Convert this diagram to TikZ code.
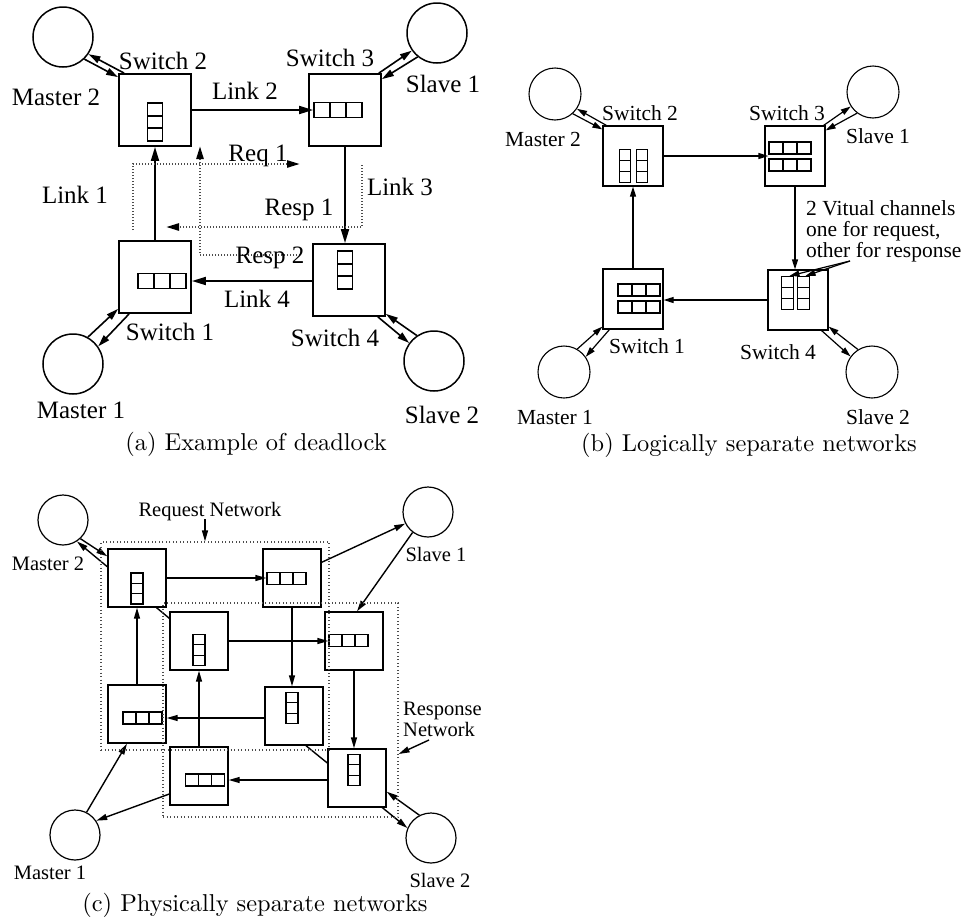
\documentclass[tikz,border=0pt]{standalone}
\usepackage{fontspec}
\newfontfamily\labelfont{Liberation Serif}
\usetikzlibrary{arrows.meta,positioning,calc,backgrounds}
\tikzset{
  fonta/.style={font=\labelfont\fontsize{25}{30}\selectfont},
  fontb/.style={font=\labelfont\fontsize{21.5}{21}\selectfont},
  fontc/.style={font=\labelfont\fontsize{20.5}{21}\selectfont},
  lbla/.style={fonta,inner sep=0pt,text height=17pt,text depth=0pt},
  lblb/.style={fontb,inner sep=0pt,text height=14.6pt,text depth=0pt},
  lblc/.style={fontc,inner sep=0pt,text height=14pt,text depth=0pt},
  captext/.style={font=\fontsize{10}{12}\selectfont,scale=2.44,inner sep=0pt},
  qv/.style={draw,inner sep=0pt,path picture={
    \foreach \k in {1,2}
      \draw ($(path picture bounding box.north west)!\k/3!(path picture bounding box.south west)$) --
            ($(path picture bounding box.north east)!\k/3!(path picture bounding box.south east)$);}},
  qh/.style={draw,inner sep=0pt,path picture={
    \foreach \k in {1,2}
      \draw ($(path picture bounding box.north west)!\k/3!(path picture bounding box.north east)$) --
            ($(path picture bounding box.south west)!\k/3!(path picture bounding box.south east)$);}},
  swa/.style={draw,line width=1.8pt,fill=white,minimum size=72pt,inner sep=0pt},
  swb/.style={draw,line width=1.2pt,fill=white,minimum size=60pt,inner sep=0pt},
  swc/.style={draw,line width=1.4pt,fill=white,minimum size=58pt,inner sep=0pt},
  enda/.style={circle,draw,line width=1.5pt,minimum size=60pt,inner sep=0pt},
  endb/.style={circle,draw,line width=1.1pt,minimum size=52pt,inner sep=0pt},
  endc/.style={circle,draw,line width=1.2pt,minimum size=50pt,inner sep=0pt},
  qva/.style={qv,line width=1.8pt,minimum width=15pt,minimum height=38pt},
  qha/.style={qh,line width=1.8pt,minimum width=48pt,minimum height=15pt},
  qvb/.style={qv,line width=1.2pt,minimum width=11.5pt,minimum height=33pt},
  qhb/.style={qh,line width=1.2pt,minimum width=42pt,minimum height=12pt},
  qvc/.style={qv,line width=1.3pt,minimum width=12pt,minimum height=31pt},
  qhc/.style={qh,line width=1.3pt,minimum width=39pt,minimum height=12pt},
  linka/.style={line width=1.8pt,-{Triangle[length=14pt,width=8pt]}},
  paira/.style={line width=1.6pt,-{Triangle[length=12pt,width=7pt]}},
  flowa/.style={draw=black!70,line width=2.4pt,dash pattern=on 1pt off 2pt,-{Triangle[length=13pt,width=7pt,color=black]}},
  linkb/.style={line width=1.2pt,-{Triangle[length=10pt,width=6pt]}},
  linkc/.style={line width=1.4pt,-{Triangle[length=11pt,width=6pt]}},
  netbox/.style={draw=black!70,line width=1.2pt,dash pattern=on 1pt off 2.5pt,inner sep=0pt}
}
\begin{document}
\begin{tikzpicture}[x=1pt,y=-1pt]
\useasboundingbox (0,0) rectangle (969,921);

% (a) deadlock
\node[swa] (a2) at (155,110) {};
\node[swa] (a3) at (345,110) {};
\node[swa] (a1) at (155,277) {};
\node[swa] (a4) at (349,280) {};
\node[qva] (a2q) at (155,122) {};
\node[qha] (a3q) at (338,110) {};
\node[qha] (a1q) at (162,281) {};
\node[qva] (a4q) at (345,270) {};
\node[enda] (am2) at (63,37) {};
\node[enda] (as1) at (437,33) {};
\node[enda] (am1) at (73,364) {};
\node[enda] (as2) at (434,361) {};

\draw[linka] (a2.east) -- (a3q.west);
\draw[linka] (a3.south) -- (a3.south |- a4.north);
\draw[linka] (a4.west |- a1q) -- (a1.east |- a1q);
\draw[linka] (a1.north) -- (a2.south);

\draw[paira] ([xshift=6pt]a2.north west) -- (am2.-34);
\draw[paira] (am2.-46) -- ([yshift=-4pt]a2.north west);
\draw[paira] ([xshift=-3pt]a3.north east) -- (as1.-145);
\draw[paira] (as1.-129) -- ([yshift=-6pt]a3.north east);
\draw[paira] (am1.61) -- ([yshift=5pt]a1.south west);
\draw[paira] ([xshift=11pt]a1.south west) -- (am1.35);
\draw[paira] ([xshift=-8pt]a4.south east) -- (as2.144);
\draw[paira] (as2.124) -- ([yshift=3pt]a4.south east);

\coordinate (rq0) at (133,230);
\coordinate (rq1) at (133,164);
\coordinate (rq2) at (300,164);
\coordinate (rp0) at (362,165);
\coordinate (rp1) at (362,227);
\coordinate (rp2) at (166,227);
\coordinate (rr0) at (300,255);
\coordinate (rr1) at (200,255);
\coordinate (rr2) at (200,146);
\draw[flowa] (rq0) -- (rq1) -- (rq2);
\draw[flowa] (rp0) -- (rp1) -- (rp2);
\draw[flowa] (rr0) -- (rr1) -- (rr2);

\node[lbla] (a2l) at (163,61) {Switch 2};
\node[lbla] (a3l) at (330,58) {Switch 3};
\node[lbla] (a1l) at (170,332) {Switch 1};
\node[lbla] (a4l) at (335,338) {Switch 4};
\node[lbla] (am2l) at (56,97) {Master 2};
\node[lbla] (as1l) at (443,84) {Slave 1};
\node[lbla] (am1l) at (81,410) {Master 1};
\node[lbla] (as2l) at (442,415) {Slave 2};
\node[lbla] (l1) at (75,195) {Link 1};
\node[lbla] (l2) at (245,91) {Link 2};
\node[lbla] (l3) at (400,187) {Link 3};
\node[lbla] (l4) at (257,299) {Link 4};
\node[lbla] (rql) at (258,153) {Req 1};
\node[lbla] (rp1l) at (299,207) {Resp 1};
\node[lbla] (rp2l) at (270,255) {Resp 2};
\node[captext] (capa) at (256,444) {(a) Example of deadlock};

% (b) logically separate networks
\node[swb] (b2) at (633,156) {};
\node[swb] (b3) at (795,156) {};
\node[swb] (b1) at (633,299) {};
\node[swb] (b4) at (798,300) {};
\node[qvb] (b2qa) at (625,166) {};
\node[qvb] (b2qb) at (642,166) {};
\node[qhb] (b3qa) at (790,148) {};
\node[qhb] (b3qb) at (790,165) {};
\node[qhb] (b1qa) at (639,290) {};
\node[qhb] (b1qb) at (639,307) {};
\node[qvb] (b4qa) at (787.5,293) {};
\node[qvb] (b4qb) at (803.5,293) {};
\node[endb] (bm2) at (555,94) {};
\node[endb] (bs1) at (873,92) {};
\node[endb] (bm1) at (564,372) {};
\node[endb] (bs2) at (872,372) {};

\draw[linkb] (b2.east) -- (b2.east -| b3qa.west);
\draw[linkb] (b1.north) -- (b2.south);
\draw[linkb] (b3.south) -- (b3.south |- b4.north);
\draw[linkb] (b4.west) -- (b4.west -| b1.east);

\draw[linkb] ([xshift=4pt]b2.north west) -- (bm2.-34);
\draw[linkb] (bm2.-48) -- ([yshift=-4pt]b2.north west);
\draw[linkb] ([xshift=-2pt]b3.north east) -- (bs1.-147);
\draw[linkb] (bs1.-127) -- ([yshift=-5pt]b3.north east);
\draw[linkb] (bm1.60) -- ([yshift=3pt]b1.south west);
\draw[linkb] ([xshift=7pt]b1.south west) -- (bm1.35);
\draw[linkb] ([xshift=-7pt]b4.south east) -- (bs2.144);
\draw[linkb] (bs2.122) -- ([yshift=4pt]b4.south east);

\node[fontb,inner sep=0pt,align=left,anchor=west] (vc) at (806,231) {2 Vitual channels\\one for request,\\other for response};
\coordinate (vctail) at (850,261);
\draw[linkb] (vctail) -- ([xshift=2pt]b4qa.north);
\draw[linkb] (vctail) -- ([xshift=2pt]b4qb.north);

\node[lblb] (bm2l) at (543,139) {Master 2};
\node[lblb] (b2l) at (640,113) {Switch 2};
\node[lblb] (b3l) at (787,113) {Switch 3};
\node[lblb] (bs1l) at (878,136) {Slave 1};
\node[lblb] (b1l) at (647,346) {Switch 1};
\node[lblb] (b4l) at (778,352) {Switch 4};
\node[lblb] (bm1l) at (555,417) {Master 1};
\node[lblb] (bs2l) at (878,417) {Slave 2};
\node[captext] (capb) at (749,445) {(b) Logically separate networks};

% (c) physically separate networks
\node[swc] (r2) at (137,578) {};
\node[swc] (r3) at (292,578) {};
\node[swc] (r1) at (137,714) {};
\node[swc] (r4) at (294,716) {};
\node[swc] (s2) at (199,641) {};
\node[swc] (s3) at (354,641) {};
\node[swc] (s1) at (199,776) {};
\node[swc] (s4) at (357,778) {};
\node[qvc] (r2q) at (137,588.5) {};
\node[qhc] (r3q) at (286.5,578.5) {};
\node[qhc] (r1q) at (142.5,718) {};
\node[qvc] (r4q) at (292,708) {};
\node[qvc] (s2q) at (199,650) {};
\node[qhc] (s3q) at (348.5,640.5) {};
\node[qhc] (s1q) at (205,780) {};
\node[qvc] (s4q) at (354,770) {};
\node[endc] (cm2) at (63,520) {};
\node[endc] (cs1) at (428,512) {};
\node[endc] (cm1) at (75,835) {};
\node[endc] (cs2) at (431,838) {};

\begin{scope}[on background layer]
\draw[linkc] ([yshift=-7pt]s2.north west) -- (cm2.-57.5);
\draw[linkc] ([xshift=12pt]r4.south) -- (cs2.157);
\end{scope}

\draw[linkc] (r2.east) -- (r2.east -| r3q.west);
\draw[linkc] (r1.north) -- (r2.south);
\draw[linkc] (r3.south) -- (r3.south |- r4.north);
\draw[linkc] (r4.west |- r1q) -- (r1.east |- r1q);
\draw[linkc] (s2.east) -- (s2.east -| s3q.west);
\draw[linkc] (s1.north) -- (s2.south);
\draw[linkc] (s3.south) -- (s3.south |- s4.north);
\draw[linkc] (s4.west |- s1q) -- (s1.east |- s1q);

\draw[linkc] (cm2.-47) -- ([yshift=-8pt]r2.north west);
\draw[linkc] ([yshift=-14pt]r3.north east) -- (cs1.-153);
\draw[linkc] (cs1.-127) -- ([xshift=3pt]s3.north);
\draw[linkc] (cs2.117) -- ([yshift=16pt]s4.south east);
\draw[linkc] (cm1.63) -- ([xshift=-10pt]r1.south);
\draw[linkc] ([yshift=-18pt]s1.west) -- (cm1.34);

\node[netbox,minimum width=228pt,minimum height=208pt] (reqnet) at (215,646) {};
\node[netbox,minimum width=235pt,minimum height=214pt] (respnet) at (280.5,710) {};

\node[lblc] (reql) at (210,509) {Request Network};
\draw[linkc] ([xshift=-5pt,yshift=-3pt]reql.south) -- ([xshift=-5pt]reql.south |- reqnet.north);
\node[fontc,inner sep=0pt,align=left,anchor=west] (respl) at (403,719) {Response\\Network};
\coordinate (resptail) at (429,740);
\draw[linkc] (resptail) -- ([yshift=-44pt]respnet.east);

\node[lblc] (cm2l) at (48,563) {Master 2};
\node[lblc] (cs1l) at (436,554) {Slave 1};
\node[lblc] (cm1l) at (50,872) {Master 1};
\node[lblc] (cs2l) at (440,880) {Slave 2};
\node[captext] (capc) at (255,905) {(c) Physically separate networks};
\end{tikzpicture}
\end{document}
